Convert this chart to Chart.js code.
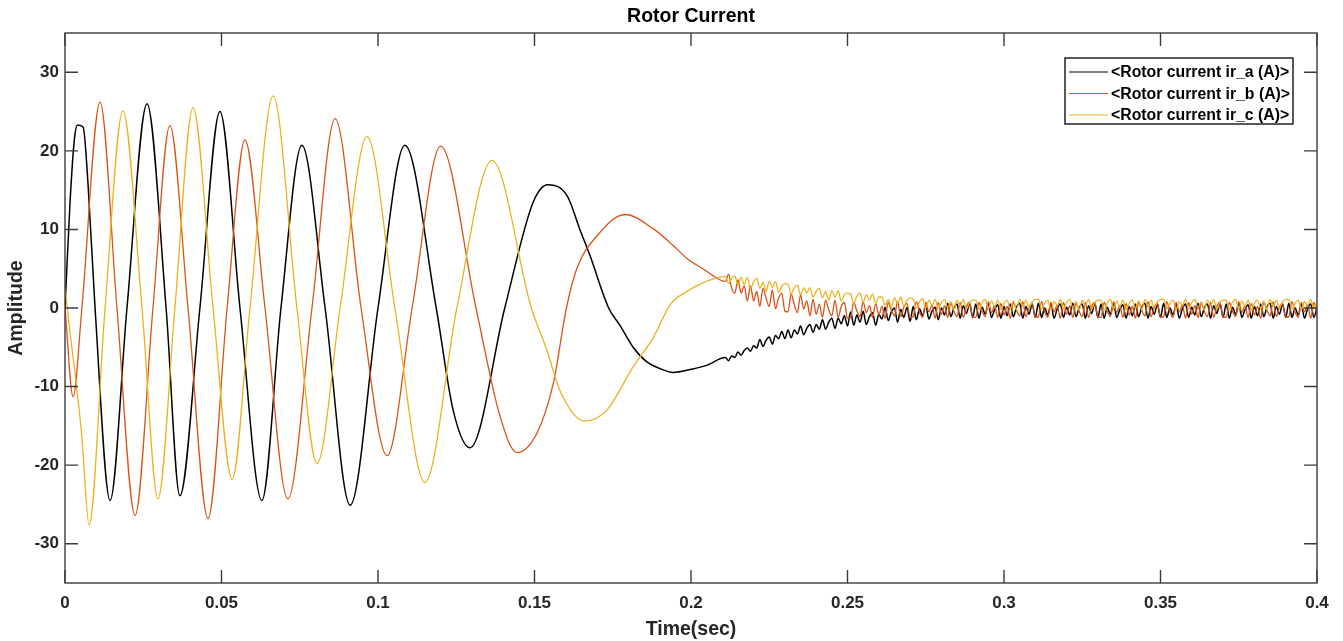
<!DOCTYPE html>
<html>
<head>
<meta charset="utf-8">
<title>Rotor Current</title>
<script src="https://cdn.jsdelivr.net/npm/chart.js@4.4.0/dist/chart.umd.min.js"></script>
<style>
  html, body { margin: 0; padding: 0; background: #fff; }
  #wrap { width: 1343px; height: 641px; }
</style>
</head>
<body>
<div id="wrap"><canvas id="rotor" width="1343" height="641"></canvas></div>
<script>
// -------------------- data --------------------

// transient part: peaks, troughs and zero crossings (time in s, current in A)
const irA_time = [0, 0.0016, 0.0030, 0.0040, 0.0058, 0.0074, 0.0096, 0.0144, 0.0198, 0.0262,
  0.0323, 0.0367, 0.0431, 0.0495, 0.0559, 0.0629, 0.0690, 0.0757, 0.0831, 0.0911,
  0.1000, 0.1086, 0.1186, 0.1240, 0.1294, 0.1405, 0.1495, 0.1543,
  0.1604, 0.1645, 0.1677, 0.1737, 0.1773, 0.1815, 0.1860, 0.1900, 0.1942, 0.2000, 0.2050];
const irA_vals = [0, 13.4, 21.5, 23.3, 23.0, 15.5, 0, -24.5, 0, 26.0,
  0, -23.9, 0, 25.0, 0, -24.5, 0, 20.7, 0, -25.1,
  0, 20.7, 0, -13.0, -17.8, 0, 13.4, 15.7,
  14.3, 10.0, 6.7, 0, -2.2, -5.0, -6.9, -7.7, -8.2, -7.8, -7.3];

const irB_time = [0, 0.0026, 0.0054, 0.0112, 0.0166, 0.0224, 0.0281, 0.0335, 0.0393, 0.0457,
  0.0518, 0.0575, 0.0639, 0.0712, 0.0789, 0.0863, 0.0946, 0.1029, 0.1109, 0.1200,
  0.1313, 0.1390, 0.1444, 0.1508, 0.1560, 0.1602, 0.1635, 0.1700, 0.1789, 0.1879,
  0.1942, 0.1987, 0.2038];
const irB_vals = [0, -11.3, 0, 26.2, 0, -26.4, 0, 23.2, 0, -26.8,
  0, 21.4, 0, -24.3, 0, 24.1, 0, -18.8, 0, 20.6,
  0, -13.8, -18.4, -15.9, -9.6, 0, 5.0, 9.2, 11.9, 10.1,
  8.0, 6.3, 5.0];

const irC_time = [0, 0.0013, 0.0053, 0.0077, 0.0128, 0.0185, 0.0246, 0.0297, 0.0351, 0.0409,
  0.0473, 0.0534, 0.0591, 0.0665, 0.0741, 0.0805, 0.0879, 0.0965, 0.1054, 0.1150,
  0.1252, 0.1364, 0.1490, 0.1540, 0.1581, 0.1661, 0.1731, 0.1815, 0.1879,
  0.1935, 0.1987, 0.2038];
const irC_vals = [2.5, -2.0, -16.0, -27.6, 0, 25.1, 0, -24.3, 0, 25.5,
  0, -21.8, 0, 27.0, 0, -19.8, 0, 21.8, 0, -22.2,
  0, 18.8, 0, -5.4, -10.5, -14.4, -13.0, -7.5, -3.8,
  0.5, 2.1, 3.2];

// settling part with the switching ripple, one shared 1 ms grid
const tailTime = [
  0.211, 0.212, 0.213, 0.214, 0.215, 0.216, 0.217, 0.218, 0.219, 0.220,
  0.221, 0.222, 0.223, 0.224, 0.225, 0.226, 0.227, 0.228, 0.229, 0.230,
  0.231, 0.232, 0.233, 0.234, 0.235, 0.236, 0.237, 0.238, 0.239, 0.240,
  0.241, 0.242, 0.243, 0.244, 0.245, 0.246, 0.247, 0.248, 0.249, 0.250,
  0.251, 0.252, 0.253, 0.254, 0.255, 0.256, 0.257, 0.258, 0.259, 0.260,
  0.261, 0.262, 0.263, 0.264, 0.265, 0.266, 0.267, 0.268, 0.269, 0.270,
  0.271, 0.272, 0.273, 0.274, 0.275, 0.276, 0.277, 0.278, 0.279, 0.280,
  0.281, 0.282, 0.283, 0.284, 0.285, 0.286, 0.287, 0.288, 0.289, 0.290,
  0.291, 0.292, 0.293, 0.294, 0.295, 0.296, 0.297, 0.298, 0.299, 0.300,
  0.301, 0.302, 0.303, 0.304, 0.305, 0.306, 0.307, 0.308, 0.309, 0.310,
  0.311, 0.312, 0.313, 0.314, 0.315, 0.316, 0.317, 0.318, 0.319, 0.320,
  0.321, 0.322, 0.323, 0.324, 0.325, 0.326, 0.327, 0.328, 0.329, 0.330,
  0.331, 0.332, 0.333, 0.334, 0.335, 0.336, 0.337, 0.338, 0.339, 0.340,
  0.341, 0.342, 0.343, 0.344, 0.345, 0.346, 0.347, 0.348, 0.349, 0.350,
  0.351, 0.352, 0.353, 0.354, 0.355, 0.356, 0.357, 0.358, 0.359, 0.360,
  0.361, 0.362, 0.363, 0.364, 0.365, 0.366, 0.367, 0.368, 0.369, 0.370,
  0.371, 0.372, 0.373, 0.374, 0.375, 0.376, 0.377, 0.378, 0.379, 0.380,
  0.381, 0.382, 0.383, 0.384, 0.385, 0.386, 0.387, 0.388, 0.389, 0.390,
  0.391, 0.392, 0.393, 0.394, 0.395, 0.396, 0.397, 0.398, 0.399, 0.400];

const irA_tail = [
  -6.3, -6.7, -6.1, -6.3, -5.6, -6.0, -5.4, -5.1, -5.5, -4.8,
  -5.1, -4.0, -4.9, -4.1, -3.7, -4.6, -3.5, -3.9, -3.0, -3.9,
  -2.8, -3.8, -2.8, -3.3, -2.3, -3.4, -2.6, -2.1, -3.1, -2.1,
  -2.7, -1.5, -2.7, -1.8, -1.3, -2.6, -1.3, -2.0, -1.0, -2.3,
  -0.5, -2.2, -0.9, -1.8, -0.4, -2.1, -1.1, -0.6, -2.2, -0.8,
  -1.4, 0.1, -1.6, -0.5, 0.0, -1.8, -0.2, -1.2, 0.1, -1.7,
  0.2, -1.5, -0.1, -1.0, 0.3, -1.4, -0.4, 0.1, -1.5, 0.0,
  -0.9, 0.6, -1.1, 0.0, 0.5, -1.3, 0.3, -0.7, 0.6, -1.2,
  0.5, -1.3, 0.1, -0.8, 0.6, -1.2, -0.2, 0.4, -1.3, 0.2,
  -1.0, 0.5, -1.1, 0.1, 0.6, -1.3, 0.2, -0.8, 0.5, -1.2,
  0.6, -1.2, 0.0, -0.9, 0.5, -1.3, -0.1, 0.5, -1.2, 0.1,
  -0.9, 0.6, -1.1, 0.0, 0.5, -1.3, 0.3, -0.7, 0.6, -1.2,
  0.5, -1.3, 0.1, -0.8, 0.6, -1.2, -0.2, 0.4, -1.3, 0.2,
  -1.0, 0.5, -1.1, 0.1, 0.6, -1.3, 0.2, -0.8, 0.5, -1.2,
  0.6, -1.2, 0.0, -0.9, 0.5, -1.3, -0.1, 0.5, -1.2, 0.1,
  -0.9, 0.6, -1.1, 0.0, 0.5, -1.3, 0.3, -0.7, 0.6, -1.2,
  0.5, -1.3, 0.1, -0.8, 0.6, -1.2, -0.2, 0.4, -1.3, 0.2,
  -1.0, 0.5, -1.1, 0.1, 0.6, -1.3, 0.2, -0.8, 0.5, -1.2,
  0.6, -1.2, 0.0, -0.9, 0.5, -1.3, -0.1, 0.5, -1.2, 0.1];

const irB_tail = [
  3.4, 4.3, 2.5, 1.9, 3.6, 1.9, 2.8, 0.9, 2.8, 0.9,
  2.1, 0.2, 2.5, 1.2, 0.2, 2.3, -0.1, 1.3, 1.9, -0.4,
  -0.5, 1.8, 0.4, -0.6, 1.7, -0.1, 0.9, -1.0, 1.1, -0.8,
  0.5, -1.2, 1.0, -0.2, -1.0, 1.0, -1.2, 0.2, 0.7, -1.3,
  -1.2, 0.7, -0.4, -1.1, 0.8, -0.6, 0.3, -1.2, 0.6, -0.9,
  0.2, -1.3, 0.7, -0.3, -1.0, 0.8, -1.1, 0.1, 0.6, -1.2,
  -1.1, 0.8, -0.5, -1.2, 0.7, -0.5, 0.4, -1.3, 0.7, -0.8,
  0.3, -1.2, 0.6, -0.4, -1.1, 0.7, -1.2, 0.2, 0.7, -1.1,
  -1.2, 0.7, -0.4, -1.1, 0.8, -0.6, 0.3, -1.2, 0.6, -0.9,
  0.2, -1.3, 0.7, -0.3, -1.0, 0.8, -1.1, 0.1, 0.6, -1.2,
  -1.1, 0.8, -0.5, -1.2, 0.7, -0.5, 0.4, -1.3, 0.7, -0.8,
  0.3, -1.2, 0.6, -0.4, -1.1, 0.7, -1.2, 0.2, 0.7, -1.1,
  -1.2, 0.7, -0.4, -1.1, 0.8, -0.6, 0.3, -1.2, 0.6, -0.9,
  0.2, -1.3, 0.7, -0.3, -1.0, 0.8, -1.1, 0.1, 0.6, -1.2,
  -1.1, 0.8, -0.5, -1.2, 0.7, -0.5, 0.4, -1.3, 0.7, -0.8,
  0.3, -1.2, 0.6, -0.4, -1.1, 0.7, -1.2, 0.2, 0.7, -1.1,
  -1.2, 0.7, -0.4, -1.1, 0.8, -0.6, 0.3, -1.2, 0.6, -0.9,
  0.2, -1.3, 0.7, -0.3, -1.0, 0.8, -1.1, 0.1, 0.6, -1.2,
  -1.1, 0.8, -0.5, -1.2, 0.7, -0.5, 0.4, -1.3, 0.7, -0.8];

const irC_tail = [
  4.0, 3.1, 3.8, 4.1, 2.9, 3.9, 3.0, 3.9, 2.5, 3.3,
  3.8, 2.5, 3.3, 2.1, 3.4, 2.6, 3.4, 2.0, 2.8, 3.1,
  3.0, 1.8, 2.6, 2.9, 1.7, 2.6, 1.9, 2.6, 1.4, 2.1,
  2.5, 1.3, 2.1, 1.0, 2.2, 1.4, 2.2, 0.9, 1.7, 1.9,
  1.8, 0.6, 1.5, 1.9, 0.7, 1.7, 1.0, 1.8, 0.6, 1.4,
  1.4, 0.3, 1.1, 0.1, 1.3, 0.6, 1.4, 0.2, 1.0, 1.3,
  1.1, 0.0, 0.8, 1.2, 0.0, 1.0, 0.3, 1.1, 0.0, 0.7,
  1.1, 0.0, 0.8, -0.2, 1.0, 0.3, 1.1, -0.1, 0.7, 1.0,
  1.0, -0.2, 0.7, 1.1, -0.1, 0.9, 0.2, 1.0, -0.2, 0.6,
  1.0, -0.1, 0.9, -0.2, 1.1, 0.2, 1.0, 0.0, 0.8, 1.1,
  1.1, -0.1, 0.6, 1.0, -0.2, 0.8, 0.3, 1.1, -0.1, 0.7,
  1.1, 0.0, 0.8, -0.2, 1.0, 0.3, 1.1, -0.1, 0.7, 1.0,
  1.0, -0.2, 0.7, 1.1, -0.1, 0.9, 0.2, 1.0, -0.2, 0.6,
  1.0, -0.1, 0.9, -0.2, 1.1, 0.2, 1.0, 0.0, 0.8, 1.1,
  1.1, -0.1, 0.6, 1.0, -0.2, 0.8, 0.3, 1.1, -0.1, 0.7,
  1.1, 0.0, 0.8, -0.2, 1.0, 0.3, 1.1, -0.1, 0.7, 1.0,
  1.0, -0.2, 0.7, 1.1, -0.1, 0.9, 0.2, 1.0, -0.2, 0.6,
  1.0, -0.1, 0.9, -0.2, 1.1, 0.2, 1.0, 0.0, 0.8, 1.1,
  1.1, -0.1, 0.6, 1.0, -0.2, 0.8, 0.3, 1.1, -0.1, 0.7];

const seriesNames = ['<Rotor current ir_a (A)>', '<Rotor current ir_b (A)>', '<Rotor current ir_c (A)>'];

const xTicks = [0, 0.05, 0.1, 0.15, 0.2, 0.25, 0.3, 0.35, 0.4];
const xTickLabels = ['0', '0.05', '0.1', '0.15', '0.2', '0.25', '0.3', '0.35', '0.4'];
const yTicks = [-30, -20, -10, 0, 10, 20, 30];
const yTickLabels = ['-30', '-20', '-10', '0', '10', '20', '30'];

// -------------------- grafico --------------------

const FONT = '"Liberation Sans", Arial, Helvetica, sans-serif';
Chart.defaults.font.family = FONT;

function toPoints(times, vals) {
  return times.map((t, i) => ({ x: t, y: vals[i] }));
}

const irA = toPoints(irA_time, irA_vals).concat(toPoints(tailTime, irA_tail));
const irB = toPoints(irB_time, irB_vals).concat(toPoints(tailTime, irB_tail));
const irC = toPoints(irC_time, irC_vals).concat(toPoints(tailTime, irC_tail));

// box around the axes with inward ticks on all four sides (matlab look)
const matlabAxes = {
  id: 'matlabAxes',
  afterDatasetsDraw(chart) {
    const { ctx, chartArea: a, scales: { x, y } } = chart;
    const len = 13;
    ctx.save();
    ctx.strokeStyle = '#3c3c3c';
    ctx.lineWidth = 1.4;
    ctx.strokeRect(a.left, a.top, a.right - a.left, a.bottom - a.top);
    ctx.beginPath();
    xTicks.forEach(v => {
      const px = x.getPixelForValue(v);
      ctx.moveTo(px, a.bottom); ctx.lineTo(px, a.bottom - len);
      ctx.moveTo(px, a.top); ctx.lineTo(px, a.top + len);
    });
    yTicks.forEach(v => {
      const py = y.getPixelForValue(v);
      ctx.moveTo(a.left, py); ctx.lineTo(a.left + len, py);
      ctx.moveTo(a.right, py); ctx.lineTo(a.right - len, py);
    });
    ctx.stroke();
    ctx.restore();
  }
};

// title over the plot box and the boxed legend in the top right corner
const titleAndLegend = {
  id: 'titleAndLegend',
  afterDraw(chart) {
    const { ctx, chartArea: a } = chart;
    ctx.save();
    ctx.fillStyle = '#000';
    ctx.font = 'bold 19.5px ' + FONT;
    ctx.textAlign = 'center';
    ctx.textBaseline = 'middle';
    ctx.fillText('Rotor Current', (a.left + a.right) / 2, 17);

    const w = 228, h = 66;
    const bx = a.right - 24 - w, by = a.top + 25;
    ctx.fillStyle = '#fff';
    ctx.fillRect(bx, by, w, h);
    ctx.strokeStyle = '#000';
    ctx.lineWidth = 1.3;
    ctx.strokeRect(bx, by, w, h);

    ctx.font = 'bold 15.8px ' + FONT;
    ctx.textAlign = 'left';
    chart.data.datasets.forEach((ds, i) => {
      const ry = by + 14 + i * 21.5;
      ctx.strokeStyle = ds.borderColor;
      ctx.lineWidth = 1.2;
      ctx.beginPath();
      ctx.moveTo(bx + 4, ry);
      ctx.lineTo(bx + 43, ry);
      ctx.stroke();
      ctx.fillStyle = '#000';
      ctx.fillText(seriesNames[i], bx + 46, ry + 1);
    });
    ctx.restore();
  }
};

const ctx = document.getElementById('rotor');

const chartGraph = new Chart(ctx, {
  type: 'line',
  data: {
    datasets: [{
      label: seriesNames[0],
      data: irA,
      borderColor: '#000000',
      borderWidth: 1.5,
      order: 3
    },
    {
      label: seriesNames[1],
      data: irB,
      borderColor: '#D95319',
      borderWidth: 1.3,
      order: 2
    },
    {
      label: seriesNames[2],
      data: irC,
      borderColor: '#EDB120',
      borderWidth: 1.3,
      order: 1
    }]
  },
  options: {
    responsive: false,
    animation: false,
    events: [],
    layout: { padding: { top: 33, right: 26, left: 0, bottom: 0 } },
    elements: {
      point: { radius: 0 },
      line: { cubicInterpolationMode: 'monotone', fill: false }
    },
    plugins: {
      legend: { display: false },
      title: { display: false },
      tooltip: { enabled: false }
    },
    scales: {
      x: {
        type: 'linear',
        min: 0,
        max: 0.4,
        afterFit: (scale) => { scale.height = 58; },
        afterBuildTicks: (scale) => { scale.ticks = xTicks.map(v => ({ value: v })); },
        grid: { display: false, drawTicks: false },
        border: { display: false },
        ticks: {
          padding: 10,
          color: '#262626',
          font: { size: 17, weight: 'bold' },
          maxRotation: 0,
          autoSkip: false,
          callback: (value, index) => xTickLabels[index]
        },
        title: {
          display: true,
          text: 'Time(sec)',
          color: '#262626',
          font: { size: 19.5, weight: 'bold' },
          padding: { top: 0, bottom: 0 }
        }
      },
      y: {
        type: 'linear',
        min: -35,
        max: 35,
        afterFit: (scale) => { scale.width = 65; },
        afterBuildTicks: (scale) => { scale.ticks = yTicks.map(v => ({ value: v })); },
        grid: { display: false, drawTicks: false },
        border: { display: false },
        ticks: {
          padding: 6,
          color: '#262626',
          font: { size: 17, weight: 'bold' },
          autoSkip: false,
          callback: (value, index) => yTickLabels[index]
        },
        title: {
          display: true,
          text: 'Amplitude',
          color: '#262626',
          font: { size: 19.5, weight: 'bold' },
          padding: { top: 5, bottom: 0 }
        }
      }
    }
  },
  plugins: [matlabAxes, titleAndLegend]
});
</script>
</body>
</html>
